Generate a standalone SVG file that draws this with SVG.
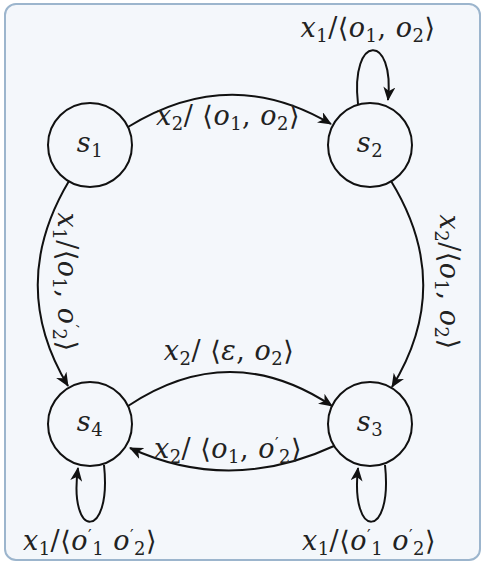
<svg xmlns="http://www.w3.org/2000/svg" width="485" height="565" viewBox="0 0 485 565">
<style>
.bg{fill:#f4f7fb;stroke:#9cb5cd;stroke-width:2}
.n{fill:none;stroke:#111;stroke-width:2}
.e{fill:none;stroke:#111;stroke-width:2;marker-end:url(#ah)}
.t{font-size:27px;fill:#222;text-anchor:middle;letter-spacing:0.5px}
.i{font-style:italic}
.s{font-size:18px}
.p{font-size:16px}
</style>
<defs>
<marker id="ah" viewBox="0 0 14 12" refX="13" refY="6" markerWidth="14" markerHeight="12" markerUnits="userSpaceOnUse" orient="auto">
<path d="M0,0 L14,6 L0,12 L4,6 Z" fill="#111"/>
</marker>
</defs>
<rect class="bg" x="5" y="4" width="475" height="556" rx="11"/>
<g id="edges">
<path class="e" d="M128,127 Q230,64 331,124"/>
<path class="e" d="M358,104 C350,33 395,33 388,100"/>
<path class="e" d="M391,181 Q455,285 392,387"/>
<path class="e" d="M69,181 Q7,285 68,386"/>
<path class="e" d="M128,406 Q230,338 332,406"/>
<path class="e" d="M334,446 Q230,494 130,448"/>
<path class="e" d="M104,465 C112,540 68,540 78,468"/>
<path class="e" d="M385,465 C393,540 350,540 358,468"/>
</g>
<g id="labels" font-family="'DejaVu Serif', 'Liberation Serif', 'Times New Roman', serif">
<text class="t" x="368" y="37"><tspan class="i">x</tspan><tspan class="s" dy="5">1</tspan><tspan dy="-5">/⟨</tspan><tspan class="i">o</tspan><tspan class="s" dy="5">1</tspan><tspan dy="-5">, </tspan><tspan class="i">o</tspan><tspan class="s" dy="5">2</tspan><tspan dy="-5">⟩</tspan></text>
<text class="t" x="228" y="125"><tspan class="i">x</tspan><tspan class="s" dy="5">2</tspan><tspan dy="-5">/  ⟨</tspan><tspan class="i">o</tspan><tspan class="s" dy="5">1</tspan><tspan dy="-5">, </tspan><tspan class="i">o</tspan><tspan class="s" dy="5">2</tspan><tspan dy="-5">⟩</tspan></text>
<text class="t" transform="translate(440,282) rotate(90)"><tspan class="i">x</tspan><tspan class="s" dy="5">2</tspan><tspan dy="-5">/⟨</tspan><tspan class="i">o</tspan><tspan class="s" dy="5">1</tspan><tspan dy="-5">, </tspan><tspan class="i">o</tspan><tspan class="s" dy="5">2</tspan><tspan dy="-5">⟩</tspan></text>
<text class="t" transform="translate(58,282) rotate(90)"><tspan class="i">x</tspan><tspan class="s" dy="5">1</tspan><tspan dy="-5">/⟨</tspan><tspan class="i">o</tspan><tspan class="s" dy="5">1</tspan><tspan dy="-5">, </tspan><tspan class="i">o</tspan><tspan class="p" dy="-9">′</tspan><tspan class="s" dy="14">2</tspan><tspan dy="-5">⟩</tspan></text>
<text class="t" x="229" y="360"><tspan class="i">x</tspan><tspan class="s" dy="5">2</tspan><tspan dy="-5">/  ⟨</tspan><tspan class="i">ε</tspan><tspan>, </tspan><tspan class="i">o</tspan><tspan class="s" dy="5">2</tspan><tspan dy="-5">⟩</tspan></text>
<text class="t" x="228" y="458"><tspan class="i">x</tspan><tspan class="s" dy="5">2</tspan><tspan dy="-5">/  ⟨</tspan><tspan class="i">o</tspan><tspan class="s" dy="5">1</tspan><tspan dy="-5">, </tspan><tspan class="i">o</tspan><tspan class="p" dy="-9">′</tspan><tspan class="s" dy="14">2</tspan><tspan dy="-5">⟩</tspan></text>
<text class="t" x="90" y="550"><tspan class="i">x</tspan><tspan class="s" dy="5">1</tspan><tspan dy="-5">/⟨</tspan><tspan class="i">o</tspan><tspan class="p" dy="-9">′</tspan><tspan class="s" dy="14">1</tspan><tspan dy="-5">  </tspan><tspan class="i">o</tspan><tspan class="p" dy="-9">′</tspan><tspan class="s" dy="14">2</tspan><tspan dy="-5">⟩</tspan></text>
<text class="t" x="369" y="550"><tspan class="i">x</tspan><tspan class="s" dy="5">1</tspan><tspan dy="-5">/⟨</tspan><tspan class="i">o</tspan><tspan class="p" dy="-9">′</tspan><tspan class="s" dy="14">1</tspan><tspan dy="-5">  </tspan><tspan class="i">o</tspan><tspan class="p" dy="-9">′</tspan><tspan class="s" dy="14">2</tspan><tspan dy="-5">⟩</tspan></text>
</g>
<g id="s1"><circle class="n" cx="90" cy="145" r="42"/><text class="t" x="90" y="152" font-family="'DejaVu Serif', 'Liberation Serif', serif"><tspan class="i">s</tspan><tspan class="s" dy="5">1</tspan></text></g>
<g id="s2"><circle class="n" cx="370" cy="145" r="42"/><text class="t" x="370" y="152" font-family="'DejaVu Serif', 'Liberation Serif', serif"><tspan class="i">s</tspan><tspan class="s" dy="5">2</tspan></text></g>
<g id="s3"><circle class="n" cx="370" cy="424" r="42"/><text class="t" x="370" y="431" font-family="'DejaVu Serif', 'Liberation Serif', serif"><tspan class="i">s</tspan><tspan class="s" dy="5">3</tspan></text></g>
<g id="s4"><circle class="n" cx="90" cy="424" r="42"/><text class="t" x="90" y="431" font-family="'DejaVu Serif', 'Liberation Serif', serif"><tspan class="i">s</tspan><tspan class="s" dy="5">4</tspan></text></g>
</svg>
